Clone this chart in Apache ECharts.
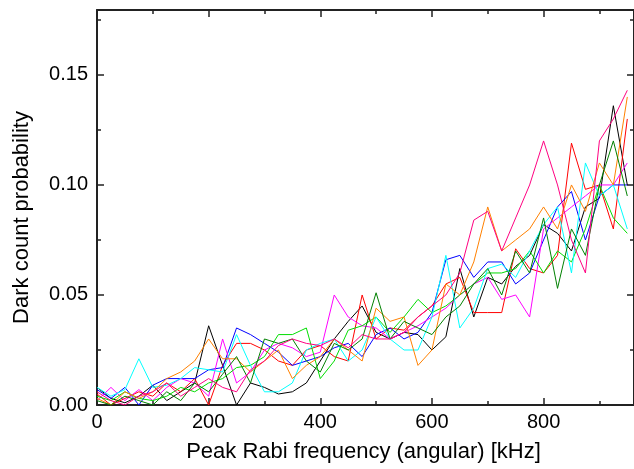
<!DOCTYPE html>
<html>
<head>
<meta charset="utf-8">
<script src="https://cdn.jsdelivr.net/npm/echarts@6/dist/echarts.min.js"></script>
<style>
  html, body { margin: 0; padding: 0; background: #fff; }
  #chart { width: 634px; height: 469px; }
</style>
</head>
<body>
<div id="chart"></div>
<script>
// frequency grid (kHz)
const freqs = [0, 25, 50, 75, 100, 125, 150, 175, 200, 225, 250, 275, 300, 325, 350, 375, 400, 425, 450, 475,
  500, 525, 550, 575, 600, 625, 650, 675, 700, 725, 750, 775, 800, 825, 850, 875, 900, 925, 950];

const blackVals = [0.008, 0.003, 0.001, 0.004, 0.009, 0.002, 0.006, 0.010, 0.036, 0.018, 0.000, 0.010, 0.008, 0.005, 0.006, 0.010, 0.020, 0.030, 0.038, 0.045,
  0.033, 0.030, 0.033, 0.032, 0.025, 0.031, 0.062, 0.040, 0.058, 0.055, 0.063, 0.068, 0.082, 0.078, 0.070, 0.090, 0.094, 0.136, 0.100];
const redVals = [0.005, 0.000, 0.003, 0.006, 0.004, 0.010, 0.006, 0.012, 0.000, 0.018, 0.028, 0.028, 0.025, 0.020, 0.018, 0.025, 0.027, 0.022, 0.020, 0.050,
  0.030, 0.035, 0.034, 0.040, 0.045, 0.055, 0.058, 0.042, 0.042, 0.042, 0.071, 0.062, 0.060, 0.068, 0.119, 0.098, 0.100, 0.080, 0.130];
const blueVals = [0.007, 0.003, 0.008, 0.000, 0.009, 0.012, 0.012, 0.012, 0.016, 0.017, 0.035, 0.032, 0.028, 0.024, 0.018, 0.020, 0.022, 0.026, 0.028, 0.022,
  0.032, 0.035, 0.030, 0.033, 0.042, 0.066, 0.068, 0.058, 0.065, 0.065, 0.055, 0.060, 0.075, 0.090, 0.097, 0.075, 0.095, 0.100, 0.100];
const magentaVals = [0.002, 0.008, 0.002, 0.007, 0.002, 0.008, 0.012, 0.010, 0.004, 0.030, 0.010, 0.015, 0.025, 0.028, 0.026, 0.022, 0.024, 0.050, 0.040, 0.036,
  0.035, 0.030, 0.033, 0.036, 0.040, 0.044, 0.050, 0.055, 0.058, 0.048, 0.050, 0.040, 0.080, 0.085, 0.090, 0.095, 0.100, 0.100, 0.110];
const greenVals = [0.004, 0.002, 0.006, 0.003, 0.002, 0.004, 0.008, 0.006, 0.010, 0.012, 0.017, 0.018, 0.022, 0.032, 0.032, 0.035, 0.012, 0.020, 0.034, 0.036,
  0.040, 0.033, 0.040, 0.048, 0.042, 0.045, 0.050, 0.055, 0.060, 0.060, 0.062, 0.070, 0.060, 0.070, 0.065, 0.080, 0.100, 0.085, 0.078];
const cyanVals = [0.008, 0.004, 0.007, 0.021, 0.008, 0.009, 0.012, 0.017, 0.016, 0.015, 0.032, 0.018, 0.006, 0.006, 0.010, 0.025, 0.028, 0.030, 0.020, 0.025,
  0.040, 0.030, 0.025, 0.025, 0.040, 0.068, 0.035, 0.044, 0.062, 0.064, 0.058, 0.070, 0.082, 0.090, 0.060, 0.110, 0.095, 0.100, 0.080];
const orangeVals = [0.003, 0.000, 0.006, 0.003, 0.006, 0.012, 0.015, 0.020, 0.030, 0.021, 0.021, 0.015, 0.020, 0.025, 0.012, 0.018, 0.022, 0.030, 0.025, 0.020,
  0.044, 0.038, 0.040, 0.018, 0.025, 0.055, 0.050, 0.065, 0.090, 0.070, 0.075, 0.080, 0.090, 0.080, 0.100, 0.088, 0.110, 0.100, 0.140];
const darkGreenVals = [0.002, 0.000, 0.004, 0.002, 0.000, 0.006, 0.002, 0.010, 0.006, 0.014, 0.022, 0.010, 0.030, 0.028, 0.030, 0.020, 0.015, 0.028, 0.025, 0.030,
  0.051, 0.030, 0.038, 0.035, 0.032, 0.040, 0.045, 0.055, 0.062, 0.050, 0.070, 0.060, 0.085, 0.053, 0.080, 0.068, 0.100, 0.120, 0.095];
const pinkVals = [0.006, 0.002, 0.000, 0.004, 0.006, 0.010, 0.004, 0.008, 0.012, 0.008, 0.006, 0.016, 0.020, 0.027, 0.030, 0.028, 0.027, 0.030, 0.026, 0.032,
  0.030, 0.030, 0.033, 0.040, 0.045, 0.050, 0.060, 0.084, 0.088, 0.070, 0.085, 0.100, 0.120, 0.100, 0.075, 0.060, 0.120, 0.130, 0.143];

const seriesList = [
  ['black', '#000000', blackVals],
  ['red', '#ff0000', redVals],
  ['blue', '#0000ff', blueVals],
  ['magenta', '#ff00ff', magentaVals],
  ['green', '#00dd00', greenVals],
  ['cyan', '#00ffff', cyanVals],
  ['orange', '#ff8000', orangeVals],
  ['darkgreen', '#008000', darkGreenVals],
  ['pink', '#ff0080', pinkVals]
];

const chart = echarts.init(document.getElementById('chart'), null, { renderer: 'canvas' });

const font = 'Liberation Sans, Arial, sans-serif';
const axisColor = '#222';

const lineStyle = { onZero: false, lineStyle: { color: axisColor, width: 2 } };
const tickStyle = { inside: true, length: 7, lineStyle: { color: axisColor, width: 1.5 } };
const minorStyle = { show: true, splitNumber: 2, length: 4, lineStyle: { color: axisColor, width: 1.5 } };

const option = {
  animation: false,
  // right edge of the frame sits just past the canvas, like the cropped original
  grid: { left: 97, top: 10, right: -2, bottom: 64 },
  xAxis: [
    {
      type: 'value', min: 0, max: 962, interval: 200,
      name: 'Peak Rabi frequency (angular) [kHz]',
      nameLocation: 'middle', nameGap: 36,
      nameTextStyle: { fontFamily: font, fontSize: 22, color: '#000', padding: [0, 4, 0, 0] },
      axisLine: lineStyle,
      axisTick: tickStyle,
      minorTick: minorStyle,
      axisLabel: { fontFamily: font, fontSize: 20, color: '#000', margin: 7, showMaxLabel: false },
      splitLine: { show: false }
    },
    {
      type: 'value', min: 0, max: 962, interval: 200, position: 'top',
      axisLine: lineStyle,
      axisTick: tickStyle,
      minorTick: minorStyle,
      axisLabel: { show: false },
      splitLine: { show: false }
    }
  ],
  yAxis: [
    {
      type: 'value', min: 0, max: 0.1795, interval: 0.05,
      name: 'Dark count probability',
      nameLocation: 'middle', nameGap: 64,
      nameTextStyle: { fontFamily: font, fontSize: 22, color: '#000', padding: [0, 20, 0, 0] },
      axisLine: lineStyle,
      axisTick: tickStyle,
      minorTick: minorStyle,
      axisLabel: { fontFamily: font, fontSize: 20, color: '#000', margin: 9, formatter: v => v.toFixed(2), showMaxLabel: false },
      splitLine: { show: false }
    },
    {
      type: 'value', min: 0, max: 0.1795, interval: 0.05, position: 'right',
      axisLine: lineStyle,
      axisTick: tickStyle,
      minorTick: minorStyle,
      axisLabel: { show: false },
      splitLine: { show: false }
    }
  ],
  series: seriesList.map(([name, color, vals]) => ({
    name: name,
    type: 'line',
    showSymbol: false,
    symbol: 'none',
    clip: true,
    lineStyle: { color: color, width: 1 },
    data: freqs.map((f, i) => [f, vals[i]])
  }))
};

chart.setOption(option);
</script>
</body>
</html>
